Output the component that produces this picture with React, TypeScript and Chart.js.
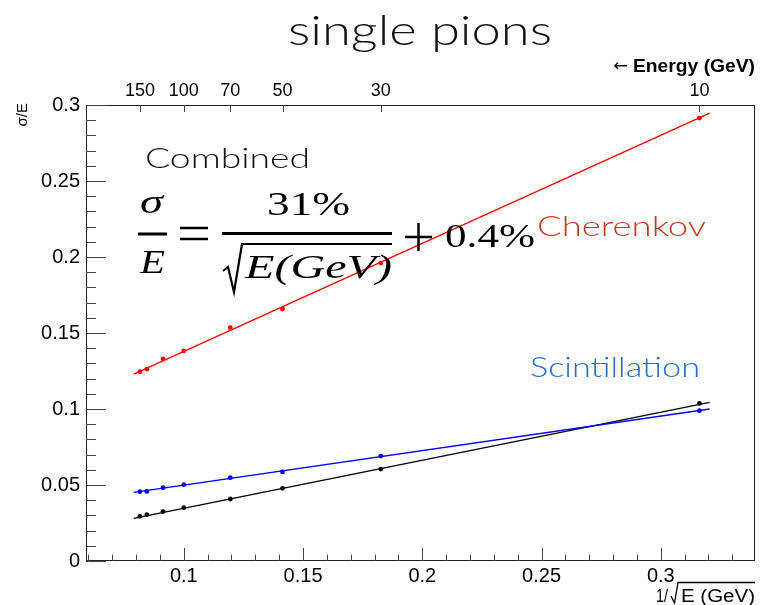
import React, { useEffect, useRef } from 'react';
import { Chart, registerables } from 'chart.js';
Chart.register(...registerables);

// ---- data ----
const xMin = 0.059;
const xMax = 0.3395;
const yMin = 0;
const yMax = 0.3;
const xTickValues = [0.1, 0.15, 0.2, 0.25, 0.3];
const yTickValues = [0, 0.05, 0.1, 0.15, 0.2, 0.25, 0.3];
const energyLabels = ['150', '100', '70', '50', '30', '10'];
const energyPositions = [0.0816, 0.1, 0.1195, 0.1414, 0.1826, 0.3162];
const pointX = [0.0816, 0.0845, 0.0913, 0.1, 0.1195, 0.1414, 0.1826, 0.3162];
const cherenkovY = [0.1245, 0.1262, 0.133, 0.1383, 0.1535, 0.1658, 0.196, 0.2914];
const scintillationY = [0.0456, 0.0458, 0.0482, 0.0502, 0.0548, 0.0586, 0.069, 0.0989];
const combinedY = [0.0294, 0.0305, 0.0325, 0.0351, 0.0408, 0.0478, 0.0605, 0.1037];
const fitX = [0.079, 0.3205];
const cherenkovFit = [0.123, 0.2947];
const scintillationFit = [0.0452, 0.1];
const combinedFit = [0.0281, 0.1044];

const RED = '#ff0000';
const BLUE = '#0000ff';
const BLACK = '#000000';

function pts(xs: number[], ys: number[]) {
  return xs.map((x, i) => ({ x, y: ys[i] }));
}

function drawFit(ctx: CanvasRenderingContext2D, text: string, font: string, x: number, baseline: number, width: number, color: string) {
  ctx.save();
  ctx.font = font;
  const w = ctx.measureText(text).width;
  ctx.translate(x, baseline);
  ctx.scale(width / w, 1);
  ctx.textAlign = 'left';
  ctx.textBaseline = 'alphabetic';
  ctx.fillStyle = color;
  ctx.fillText(text, 0, 0);
  ctx.restore();
}

function seg(ctx: CanvasRenderingContext2D, x1: number, y1: number, x2: number, y2: number) {
  ctx.beginPath();
  ctx.moveTo(x1, y1);
  ctx.lineTo(x2, y2);
  ctx.stroke();
}

const decor = {
  id: 'decor',
  afterDraw(chart: any) {
    const ctx: CanvasRenderingContext2D = chart.ctx;
    const { left, right, top, bottom } = chart.chartArea;
    const xs = chart.scales.x;
    const ys = chart.scales.y;
    const xt = chart.scales.x2;
    ctx.save();
    // frame
    ctx.strokeStyle = '#222';
    ctx.lineWidth = 1;
    ctx.strokeRect(Math.round(left) + 0.5, Math.round(top) + 0.5, Math.round(right - left) - 1, Math.round(bottom - top) - 1);
    ctx.strokeStyle = '#444';
    // y ticks (minor each 0.01)
    for (let i = 0; i <= 30; i++) {
      const py = Math.round(ys.getPixelForValue(i / 100)) + 0.5;
      const len = i % 5 === 0 ? 20 : 10;
      seg(ctx, left, py, left + len, py);
    }
    // bottom ticks
    for (let i = 6; i <= 33; i++) {
      const px = Math.round(xs.getPixelForValue(i / 100)) + 0.5;
      const len = i % 5 === 0 ? 13 : 6.5;
      seg(ctx, px, bottom, px, bottom - len);
    }
    // top energy ticks
    energyPositions.forEach((v) => {
      const px = Math.round(xt.getPixelForValue(v)) + 0.5;
      seg(ctx, px, top, px, top + 7);
    });

    // axis titles
    ctx.fillStyle = '#000';
    ctx.save();
    ctx.translate(27, 103);
    ctx.rotate(-Math.PI / 2);
    ctx.font = '15px "Liberation Sans"';
    ctx.textAlign = 'right';
    ctx.textBaseline = 'alphabetic';
    ctx.fillText('σ/E', 0, 0);
    ctx.restore();

    drawFit(ctx, '1/', '18px "Liberation Sans"', 656, 602, 12, '#000');
    ctx.strokeStyle = '#000';
    ctx.lineWidth = 1.3;
    ctx.beginPath();
    ctx.moveTo(671, 596);
    ctx.lineTo(674.5, 603);
    ctx.lineTo(678, 582.5);
    ctx.lineTo(755, 582.5);
    ctx.stroke();
    drawFit(ctx, 'E (GeV)', '18px "Liberation Sans"', 681, 602, 74, '#000');

    drawFit(ctx, '←', '16px "DejaVu Sans"', 613, 71, 15, '#000');
    drawFit(ctx, 'Energy (GeV)', 'bold 18px "Liberation Sans"', 633, 72, 122, '#000');

    // title & annotations
    drawFit(ctx, 'single pions', '300 42px Lato', 288, 45, 264, '#111');
    drawFit(ctx, 'Combined', '300 28px Lato', 145, 168, 165, '#111');
    drawFit(ctx, 'Cherenkov', '300 28px Lato', 537, 236, 169, '#c83a1e');
    drawFit(ctx, 'Scintillation', '300 28px Lato', 530, 377, 170, '#1f6ecb');

    // equation
    const serif = '"Liberation Serif"';
    drawFit(ctx, 'σ', `italic 34px ${serif}`, 140, 213, 23, '#000');
    drawFit(ctx, 'E', `italic 34px ${serif}`, 140, 273, 25, '#000');
    ctx.strokeStyle = '#000';
    ctx.lineWidth = 3;
    seg(ctx, 138, 234, 167, 234);
    ctx.lineWidth = 2.5;
    seg(ctx, 180, 228, 208, 228);
    seg(ctx, 180, 239, 208, 239);
    drawFit(ctx, '31%', `34px ${serif}`, 267, 215, 83, '#000');
    ctx.lineWidth = 3;
    seg(ctx, 222, 233.5, 392, 233.5);
    ctx.lineWidth = 2.2;
    ctx.beginPath();
    ctx.moveTo(223, 271);
    ctx.lineTo(228, 267);
    ctx.lineTo(234, 292);
    ctx.lineTo(242, 244);
    ctx.lineTo(392, 244);
    ctx.stroke();
    drawFit(ctx, 'E(GeV)', `italic 34px ${serif}`, 245, 278, 147, '#000');
    ctx.lineWidth = 2.5;
    seg(ctx, 405, 237, 432, 237);
    seg(ctx, 418.5, 223, 418.5, 251);
    drawFit(ctx, '0.4%', `34px ${serif}`, 445, 247, 90, '#000');
    ctx.restore();
  },
};

function fmt(v: number) {
  return String(Number(v.toFixed(3)));
}

export default function App() {
  const ref = useRef<HTMLCanvasElement>(null);
  useEffect(() => {
    const canvas = ref.current!;
    const chart = new Chart(canvas, {
      type: 'scatter',
      data: {
        datasets: [
          { label: 'Cherenkov fit', data: pts(fitX, cherenkovFit), showLine: true, borderColor: RED, borderWidth: 1.3, pointRadius: 0 },
          { label: 'Scintillation fit', data: pts(fitX, scintillationFit), showLine: true, borderColor: BLUE, borderWidth: 1.3, pointRadius: 0 },
          { label: 'Combined fit', data: pts(fitX, combinedFit), showLine: true, borderColor: BLACK, borderWidth: 1.3, pointRadius: 0 },
          { label: 'Cherenkov', data: pts(pointX, cherenkovY), backgroundColor: RED, borderWidth: 0, pointRadius: 2.4 },
          { label: 'Scintillation', data: pts(pointX, scintillationY), backgroundColor: BLUE, borderWidth: 0, pointRadius: 2.4 },
          { label: 'Combined', data: pts(pointX, combinedY), backgroundColor: BLACK, borderWidth: 0, pointRadius: 2.4 },
        ] as any,
      },
      options: {
        responsive: false,
        maintainAspectRatio: false,
        animation: false,
        devicePixelRatio: 1,
        layout: { padding: { left: 0, top: 0, right: 9, bottom: 0 } },
        plugins: { legend: { display: false }, tooltip: { enabled: false }, title: { display: false } },
        scales: {
          x: {
            type: 'linear',
            position: 'bottom',
            min: xMin,
            max: xMax,
            grid: { display: false, drawTicks: false },
            border: { display: false },
            afterBuildTicks: (s: any) => { s.ticks = xTickValues.map((v) => ({ value: v })); },
            afterFit: (s: any) => { s.height = 44; },
            ticks: { padding: 3, maxRotation: 0, autoSkip: false, color: '#000', font: { family: '"Liberation Sans"', size: 20 }, callback: (v: any) => fmt(Number(v)) },
          },
          x2: {
            type: 'linear',
            axis: 'x',
            position: 'top',
            min: xMin,
            max: xMax,
            grid: { display: false, drawTicks: false },
            border: { display: false },
            afterBuildTicks: (s: any) => { s.ticks = energyPositions.map((v) => ({ value: v })); },
            afterFit: (s: any) => { s.height = 105; },
            ticks: {
              padding: 3,
              maxRotation: 0,
              autoSkip: false,
              color: '#000',
              font: { family: '"Liberation Sans"', size: 18 },
              callback: (v: any) => {
                const i = energyPositions.indexOf(Number(v));
                return i >= 0 ? energyLabels[i] : '';
              },
            },
          },
          y: {
            type: 'linear',
            position: 'left',
            min: yMin,
            max: yMax,
            grid: { display: false, drawTicks: false },
            border: { display: false },
            afterBuildTicks: (s: any) => { s.ticks = yTickValues.map((v) => ({ value: v })); },
            afterFit: (s: any) => { s.width = 86; },
            ticks: { padding: 6, color: '#000', font: { family: '"Liberation Sans"', size: 20 }, callback: (v: any) => fmt(Number(v)) },
          },
        },
      } as any,
      plugins: [decor],
    });
    return () => chart.destroy();
  }, []);
  return (
    <div style={{ position: 'absolute', left: 0, top: 0, width: 764, height: 605, background: '#fff' }}>
      <canvas ref={ref} width={764} height={605} style={{ display: 'block', width: 764, height: 605 }} />
    </div>
  );
}
